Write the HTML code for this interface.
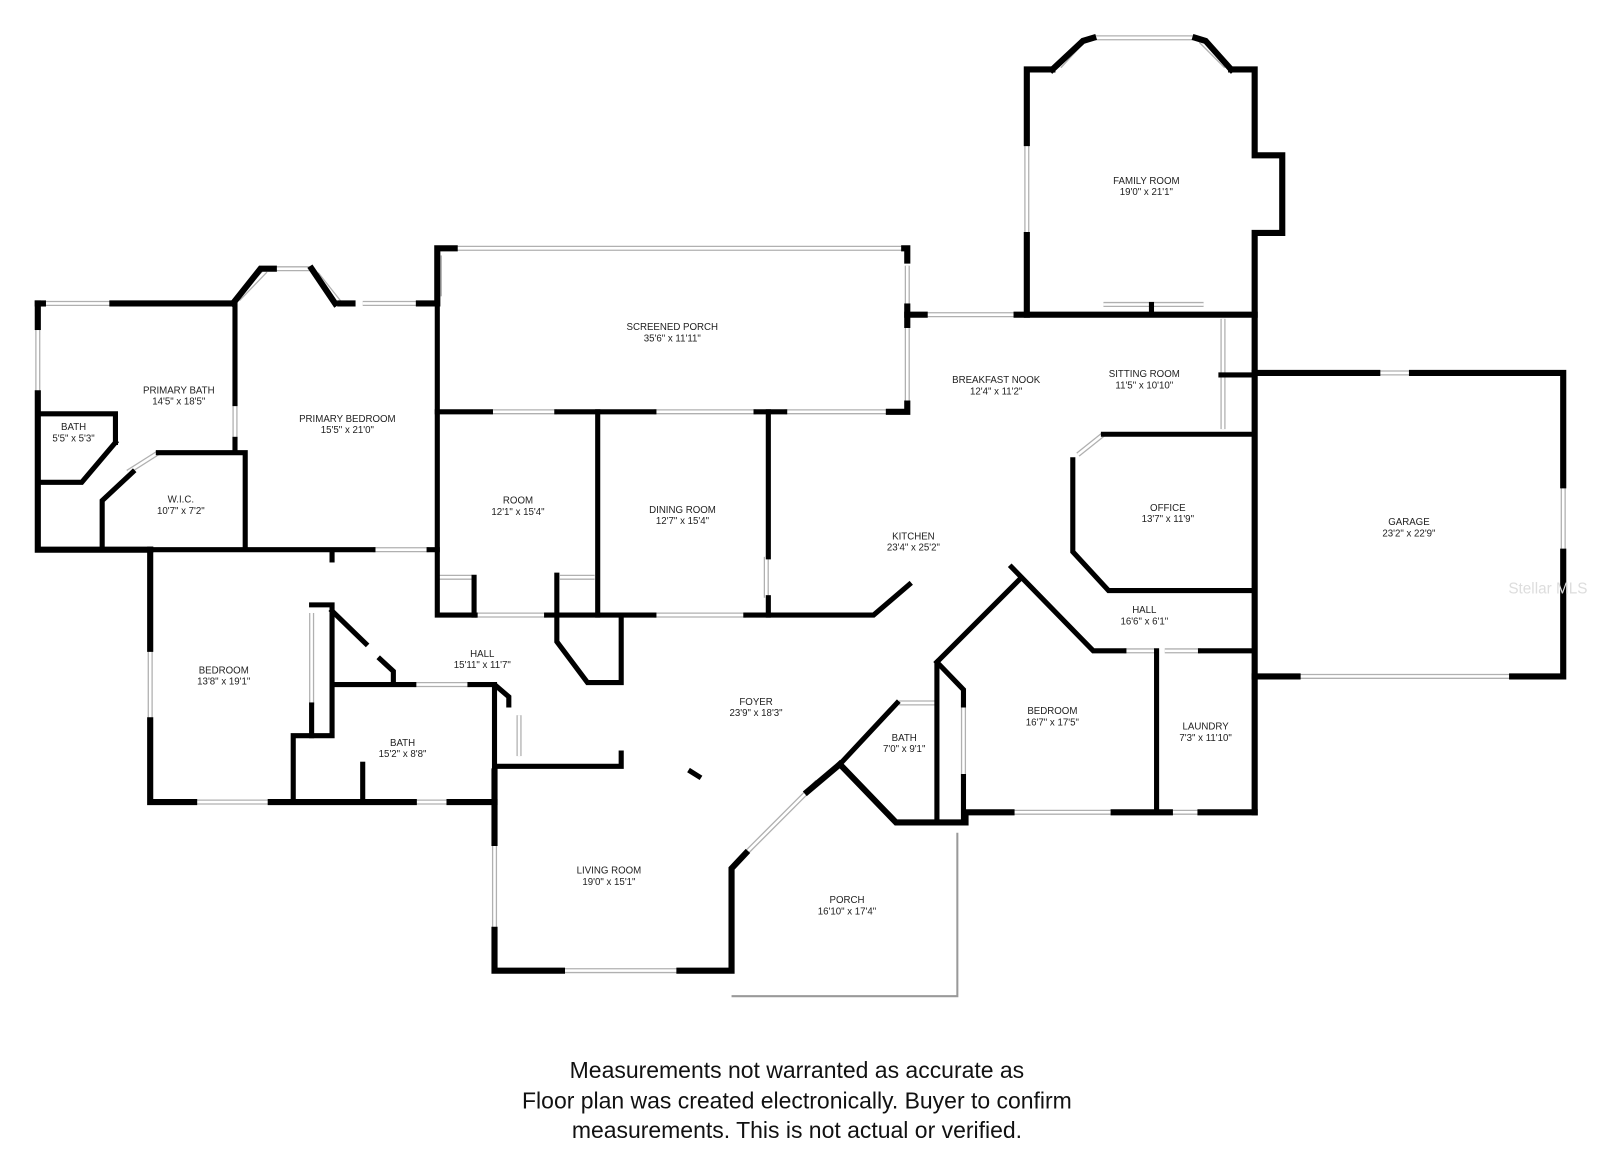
<!DOCTYPE html>
<html><head><meta charset="utf-8"><style>
html,body{margin:0;padding:0;background:#fff}
svg{display:block}
.w{fill:none;stroke:#000;stroke-width:6;stroke-linecap:square;stroke-linejoin:miter}
.i{fill:none;stroke:#000;stroke-width:5;stroke-linecap:square}
.g{fill:none;stroke:#b0b0b0;stroke-width:5}
.gi{fill:none;stroke:#fff;stroke-width:2.5}
text{font-family:"Liberation Sans",sans-serif;font-size:9.5px;fill:#222;text-anchor:middle}
.f{font-size:22.5px;fill:#111}
</style></head><body>
<svg width="1600" height="1175" viewBox="0 0 1566 1150" xmlns="http://www.w3.org/2000/svg">
<defs>
<g id="win">
<line x1="42" y1="297" x2="110" y2="297"/><line x1="37" y1="320" x2="37" y2="385"/>
<line x1="233" y1="293" x2="260" y2="265"/><line x1="268" y1="263" x2="305" y2="263"/><line x1="310" y1="268" x2="333" y2="297"/>
<line x1="355" y1="297" x2="420" y2="297"/><line x1="230" y1="395" x2="230" y2="430"/>
<line x1="445" y1="243" x2="885" y2="243"/><line x1="430" y1="250" x2="430" y2="290"/>
<line x1="888" y1="260" x2="888" y2="300"/><line x1="888" y1="320" x2="888" y2="395"/>
<line x1="480" y1="403" x2="545" y2="403"/><line x1="640" y1="403" x2="740" y2="403"/><line x1="768" y1="403" x2="870" y2="403"/>
<line x1="905" y1="308" x2="995" y2="308"/><line x1="1080" y1="298" x2="1178" y2="298"/>
<line x1="1005" y1="140" x2="1005" y2="230"/><line x1="1070" y1="37" x2="1170" y2="37"/>
<line x1="1037" y1="65" x2="1060" y2="40"/><line x1="1175" y1="40" x2="1200" y2="65"/>
<line x1="1197" y1="312" x2="1197" y2="420"/><line x1="1228" y1="585" x2="1228" y2="635"/>
<line x1="1348" y1="365" x2="1382" y2="365"/><line x1="1530" y1="475" x2="1530" y2="540"/>
<line x1="1270" y1="662" x2="1480" y2="662"/>
<line x1="1055" y1="445" x2="1080" y2="425"/>
<line x1="365" y1="538" x2="420" y2="538"/><line x1="147" y1="635" x2="147" y2="705"/>
<line x1="305" y1="600" x2="305" y2="690"/><line x1="190" y1="785" x2="265" y2="785"/><line x1="405" y1="785" x2="440" y2="785"/>
<line x1="405" y1="670" x2="460" y2="670"/><line x1="465" y1="602" x2="535" y2="602"/><line x1="640" y1="602" x2="730" y2="602"/>
<line x1="430" y1="565" x2="462" y2="565"/><line x1="548" y1="565" x2="582" y2="565"/>
<line x1="750" y1="545" x2="750" y2="585"/><line x1="508" y1="700" x2="508" y2="740"/>
<line x1="484" y1="825" x2="484" y2="910"/><line x1="550" y1="950" x2="665" y2="950"/>
<line x1="730" y1="835" x2="800" y2="765"/>
<line x1="880" y1="688" x2="915" y2="688"/><line x1="943" y1="690" x2="943" y2="760"/>
<line x1="990" y1="795" x2="1090" y2="795"/><line x1="1145" y1="795" x2="1175" y2="795"/>
<line x1="1100" y1="637" x2="1130" y2="637"/><line x1="1140" y1="637" x2="1175" y2="637"/>
<line x1="125" y1="462" x2="155" y2="443"/>
</g>
</defs>
<use href="#win" class="g"/>
<use href="#win" class="gi"/>
<polyline points="716,975 937,975 937,815" style="fill:none;stroke:#999;stroke-width:2"/>
<g class="w">
<polyline points="110,297 228,297"/><polyline points="37,385 37,538 147,538"/><line x1="37" y1="297" x2="37" y2="320"/><line x1="37" y1="297" x2="42" y2="297"/>
<polyline points="333,297 345,297"/><polyline points="410,297 428,297 428,243 445,243"/>
<polyline points="885,243 888,243 888,255"/><polyline points="888,300 888,318"/><polyline points="870,403 888,403 888,395"/>
<polyline points="888,308 905,308"/><polyline points="995,308 1228,308"/>
<polyline points="1005,308 1005,230"/><polyline points="1005,140 1005,68 1030,68"/><polyline points="1205,68 1228,68 1228,152 1255,152 1255,228 1228,228 1228,795"/>
<polyline points="1228,365 1348,365"/><polyline points="1382,365 1530,365 1530,475"/><polyline points="1530,540 1530,662 1480,662"/><line x1="1228" y1="662" x2="1270" y2="662"/>
<polyline points="1228,795 1175,795"/><polyline points="1145,795 1090,795"/><polyline points="990,795 945,795 945,805 877,805 822,748"/>
<polyline points="822,748 790,775"/><polyline points="730,835 716,850 716,950 665,950"/>
<polyline points="550,950 484,950 484,910"/><polyline points="484,825 484,755"/>
<polyline points="484,785 440,785"/><polyline points="405,785 265,785"/><polyline points="190,785 147,785 147,705"/><polyline points="147,635 147,538"/>
</g>
<g class="i">
<polyline points="228,297 230,297 230,395"/><line x1="230" y1="430" x2="230" y2="440"/>
<polyline points="155,443 240,443 240,535"/><polyline points="130,462 100,490 100,535"/>
<polyline points="37,405 113,405 113,433"/><polyline points="113,433 80,472 37,472"/>
<polyline points="147,538 365,538"/><polyline points="420,538 428,538"/>
<polyline points="428,300 428,602 465,602"/><polyline points="428,403 480,403"/><polyline points="545,403 640,403"/><polyline points="740,403 768,403"/>
<line x1="585" y1="403" x2="585" y2="602"/><polyline points="535,602 640,602"/><polyline points="730,602 855,602 890,572"/>
<polyline points="752,403 752,545"/><line x1="752" y1="585" x2="752" y2="602"/>
<line x1="464" y1="565" x2="464" y2="602"/><polyline points="545,563 545,628 575,668 608,668 608,602"/>
<line x1="325" y1="540" x2="325" y2="548"/>
<polyline points="305,592 325,592 325,720 287,720 287,785"/><line x1="305" y1="690" x2="305" y2="720"/>
<polyline points="325,598 358,630"/><polyline points="372,645 385,657 385,668"/>
<polyline points="325,670 405,670"/><polyline points="460,670 484,670 498,682 498,690"/><line x1="484" y1="670" x2="484" y2="755"/>
<line x1="355" y1="748" x2="355" y2="780"/>
<polyline points="488,750 608,750 608,737"/>
<line x1="676" y1="755" x2="684" y2="760"/>
<polyline points="1195,367 1228,367"/><polyline points="1080,425 1228,425"/>
<polyline points="1050,450 1050,540 1085,578 1228,578"/>
<polyline points="990,555 1070,637 1100,637"/><polyline points="1175,637 1228,637"/>
<polyline points="997,568 917,648 917,805"/><polyline points="917,648 943,675 943,690"/><polyline points="943,760 943,805"/>
<line x1="1132" y1="637" x2="1132" y2="795"/>
<polyline points="822,748 878,688"/>
<line x1="1127" y1="298" x2="1127" y2="308"/>
</g>
<g class="w"><polyline points="1030,68 1060,40 1070,37"/><polyline points="1170,37 1180,40 1205,68"/><polyline points="228,297 255,263 268,263"/><polyline points="305,263 328,297"/></g>
<text x="1122" y="180">FAMILY ROOM</text><text x="1122" y="191">19'0" x 21'1"</text>
<text x="658" y="323">SCREENED PORCH</text><text x="658" y="334">35'6" x 11'11"</text>
<text x="175" y="385">PRIMARY BATH</text><text x="175" y="396">14'5" x 18'5"</text>
<text x="340" y="413">PRIMARY BEDROOM</text><text x="340" y="424">15'5" x 21'0"</text>
<text x="72" y="421">BATH</text><text x="72" y="432">5'5" x 5'3"</text>
<text x="177" y="492">W.I.C.</text><text x="177" y="503">10'7" x 7'2"</text>
<text x="975" y="375">BREAKFAST NOOK</text><text x="975" y="386">12'4" x 11'2"</text>
<text x="1120" y="369">SITTING ROOM</text><text x="1120" y="380">11'5" x 10'10"</text>
<text x="507" y="493">ROOM</text><text x="507" y="504">12'1" x 15'4"</text>
<text x="668" y="502">DINING ROOM</text><text x="668" y="513">12'7" x 15'4"</text>
<text x="1143" y="500">OFFICE</text><text x="1143" y="511">13'7" x 11'9"</text>
<text x="1379" y="514">GARAGE</text><text x="1379" y="525">23'2" x 22'9"</text>
<text x="894" y="528">KITCHEN</text><text x="894" y="539">23'4" x 25'2"</text>
<text x="1120" y="600">HALL</text><text x="1120" y="611">16'6" x 6'1"</text>
<text x="219" y="659">BEDROOM</text><text x="219" y="670">13'8" x 19'1"</text>
<text x="472" y="643">HALL</text><text x="472" y="654">15'11" x 11'7"</text>
<text x="740" y="690">FOYER</text><text x="740" y="701">23'9" x 18'3"</text>
<text x="1030" y="699">BEDROOM</text><text x="1030" y="710">16'7" x 17'5"</text>
<text x="1180" y="714">LAUNDRY</text><text x="1180" y="725">7'3" x 11'10"</text>
<text x="885" y="725">BATH</text><text x="885" y="736">7'0" x 9'1"</text>
<text x="394" y="730">BATH</text><text x="394" y="741">15'2" x 8'8"</text>
<text x="596" y="855">LIVING ROOM</text><text x="596" y="866">19'0" x 15'1"</text>
<text x="829" y="884">PORCH</text><text x="829" y="895">16'10" x 17'4"</text>
<text x="1515" y="581" style="font-size:15px;fill:#ddd">Stellar MLS</text>
<text class="f" x="780" y="1055">Measurements not warranted as accurate as</text>
<text class="f" x="780" y="1085">Floor plan was created electronically.  Buyer to confirm</text>
<text class="f" x="780" y="1114">measurements. This is not actual or verified.</text>
</svg>
</body></html>
